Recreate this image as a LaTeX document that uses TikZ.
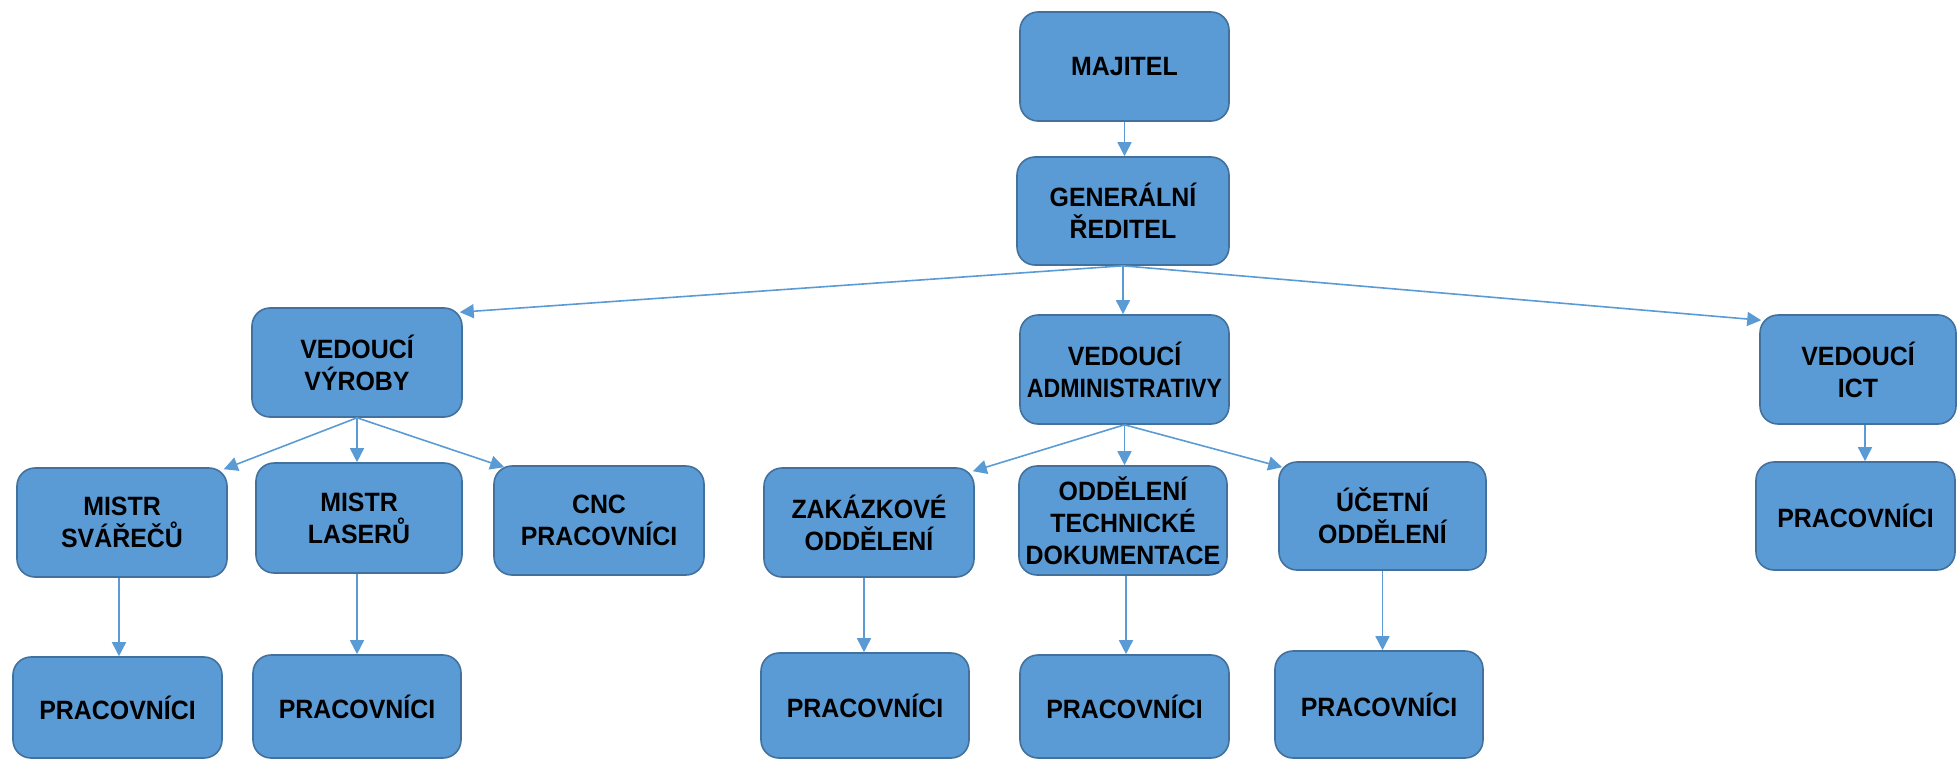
\documentclass[tikz,border=0pt]{standalone}
\usepackage{fontspec}
\usepackage{graphicx}
\setmainfont[FakeStretch=0.94]{Liberation Sans}
\usetikzlibrary{arrows.meta}
\definecolor{boxfill}{HTML}{5B9BD5}
\definecolor{boxline}{HTML}{41719C}
\definecolor{arrowcol}{HTML}{5B9BD5}
\begin{document}
\begin{tikzpicture}[x=1pt,y=-1pt,
  orgbox/.style={draw=boxline, line width=1.6pt, fill=boxfill, rounded corners=18pt,
    inner sep=0pt, align=center, text=black,
    font=\fontsize{26.5}{32}\selectfont\bfseries},
  conn/.style={draw=arrowcol, line width=1.6pt, -{Triangle[length=14pt,width=14pt]}}]
\useasboundingbox (0,0) rectangle (1957,760);
\begin{scope}
\clip (0,0) rectangle (1957,760);
% level 0-1
\node[orgbox, minimum width=209pt, minimum height=109pt] (maj) at (1124.5,66.5) {MAJITEL};
\node[orgbox, minimum width=212pt, minimum height=108pt] (gr) at (1123,211) {GENERÁLNÍ\\ŘEDITEL};
% level 2
\node[orgbox, minimum width=210pt, minimum height=109pt] (vyr) at (357,362.5) {VEDOUCÍ\\VÝROBY};
\node[orgbox, minimum width=209pt, minimum height=109pt] (adm) at (1124.5,369.5) {VEDOUCÍ\\\scalebox{0.93}[1]{ADMINISTRATIVY}};
\node[orgbox, minimum width=196pt, minimum height=109pt] (ict) at (1858,369.5) {VEDOUCÍ\\ICT};
% level 3
\node[orgbox, minimum width=210pt, minimum height=109pt] (sva) at (122,522.5) {MISTR\\SVÁŘEČŮ};
\node[orgbox, minimum width=206pt, minimum height=110pt] (las) at (359,518) {MISTR\\LASERŮ};
\node[orgbox, minimum width=210pt, minimum height=109pt] (cnc) at (599,520.5) {CNC\\PRACOVNÍCI};
\node[orgbox, minimum width=210pt, minimum height=109pt] (zak) at (869,522.5) {ZAKÁZKOVÉ\\ODDĚLENÍ};
\node[orgbox, minimum width=208pt, minimum height=109pt] (odd) at (1123,520.5) {ODDĚLENÍ\\TECHNICKÉ\\DOKUMENTACE};
\node[orgbox, minimum width=207pt, minimum height=108pt] (uct) at (1382.5,516) {ÚČETNÍ\\ODDĚLENÍ};
\node[orgbox, minimum width=199pt, minimum height=108pt] (ictp) at (1855.5,516) {PRACOVNÍCI};
% level 4
\node[orgbox, minimum width=209pt, minimum height=101pt] (p1) at (117.5,707.5) {PRACOVNÍCI};
\node[orgbox, minimum width=208pt, minimum height=103pt] (p2) at (357,706.5) {PRACOVNÍCI};
\node[orgbox, minimum width=208pt, minimum height=105pt] (p3) at (865,705.5) {PRACOVNÍCI};
\node[orgbox, minimum width=209pt, minimum height=103pt] (p4) at (1124.5,706.5) {PRACOVNÍCI};
\node[orgbox, minimum width=208pt, minimum height=107pt] (p5) at (1379,704.5) {PRACOVNÍCI};
\end{scope}
% connectors
\draw[conn] (maj.south) -- (maj.south |- gr.north);
\draw[conn] (gr.south) -- ([xshift=-3pt,yshift=-5pt]vyr.north east);
\draw[conn] (gr.south) -- (gr.south |- adm.north);
\draw[conn] (gr.south) -- ([xshift=2pt,yshift=-6pt]ict.north west);
\draw[conn] (vyr.south) -- ([xshift=-4pt,yshift=-2pt]sva.north east);
\draw[conn] (vyr.south) -- (vyr.south |- las.north);
\draw[conn] (vyr.south) -- ([xshift=11pt,yshift=-2pt]cnc.north west);
\draw[conn] (adm.south) -- ([xshift=-2pt,yshift=-4pt]zak.north east);
\draw[conn] (adm.south) -- (adm.south |- odd.north);
\draw[conn] (adm.south) -- ([xshift=4pt,yshift=-6pt]uct.north west);
\draw[conn] ([xshift=7pt]ict.south) -- ([xshift=7pt]ict.south |- ictp.north);
\draw[conn] ([xshift=-3pt]sva.south) -- ([xshift=-3pt]sva.south |- p1.north);
\draw[conn] ([xshift=-2pt]las.south) -- ([xshift=-2pt]las.south |- p2.north);
\draw[conn] ([xshift=-5pt]zak.south) -- ([xshift=-5pt]zak.south |- p3.north);
\draw[conn] ([xshift=3pt]odd.south) -- ([xshift=3pt]odd.south |- p4.north);
\draw[conn] (uct.south) -- (uct.south |- p5.north);
\end{tikzpicture}
\end{document}
